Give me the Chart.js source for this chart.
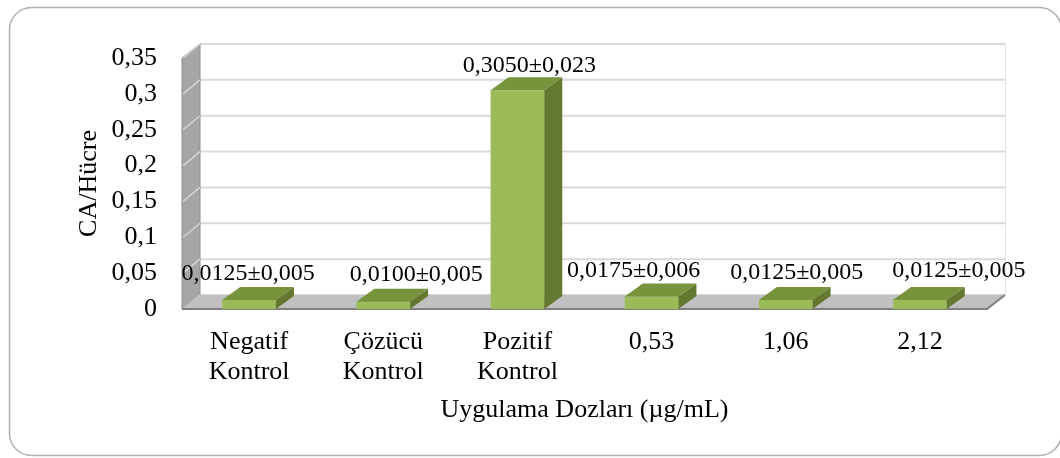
<!DOCTYPE html>
<html><head><meta charset="utf-8">
<script src="https://cdn.jsdelivr.net/npm/chart.js@4/dist/chart.umd.min.js"></script>
<style>html,body{margin:0;padding:0;background:#fff}canvas{display:block}</style>
</head><body>
<canvas id="c" width="1060" height="458"></canvas>
<script>
// ---- data ----
const categories = [["Negatif","Kontrol"],["Çözücü","Kontrol"],["Pozitif","Kontrol"],"0,53","1,06","2,12"];
const meanValues = [0.0125, 0.0100, 0.3050, 0.0175, 0.0125, 0.0125];
const sdValues = [0.005, 0.005, 0.023, 0.006, 0.005, 0.005];
const yTickLabels = ["0","0,05","0,1","0,15","0,2","0,25","0,3","0,35"];
const yTitle = "CA/Hücre";
const xTitle = "Uygulama Dozları (µg/mL)";

// ---- style config ----
const FONT = "'Liberation Serif','Times New Roman',serif";
const WALL = {dx: 18, dy: -14};
const BAR3D = {dx: 18, dy: -13};
const LABEL_DX = [-1, 33, 12, -18, 11, 39];
const LABEL_DY = [-26, -27, -25, -26, -27, -29];
const C_FRONT = '#9bbb59', C_TOP = '#77933c', C_SIDE = '#64792f';

const fmt = (v, d) => v.toFixed(d).replace('.', ',');
const barLabels = meanValues.map((m, i) => fmt(m, 4) + '±' + fmt(sdValues[i], 3));

function poly(ctx, pts, fill, stroke, lw) {
  ctx.beginPath();
  ctx.moveTo(pts[0][0], pts[0][1]);
  for (let i = 1; i < pts.length; i++) ctx.lineTo(pts[i][0], pts[i][1]);
  ctx.closePath();
  if (fill) { ctx.fillStyle = fill; ctx.fill(); }
  if (stroke) { ctx.strokeStyle = stroke; ctx.lineWidth = lw || 1; ctx.stroke(); }
}

const threeD = {
  id: 'threeD',
  beforeDraw(chart) {
    const ctx = chart.ctx, a = chart.chartArea, ys = chart.scales.y;
    ctx.save();
    ctx.fillStyle = '#fff';
    ctx.fillRect(0, 0, chart.width, chart.height);
    // outer rounded border
    ctx.strokeStyle = '#b0b0b0'; ctx.lineWidth = 1.5;
    ctx.beginPath(); ctx.roundRect(9.5, 7.5, 1052, 448, 22); ctx.stroke();
    const L = a.left, R = a.right, T = a.top, Bt = a.bottom, dx = WALL.dx, dy = WALL.dy;
    // back wall
    ctx.fillStyle = '#fff';
    ctx.fillRect(L + dx, T + dy, R - L, Bt - T);
    ctx.strokeStyle = '#e3e3e3'; ctx.lineWidth = 1;
    ctx.beginPath(); ctx.moveTo(R + dx + 0.5, T + dy); ctx.lineTo(R + dx + 0.5, Bt + dy); ctx.stroke();
    // back wall grid lines
    ctx.strokeStyle = '#d9d9d9'; ctx.lineWidth = 2;
    ys.ticks.forEach(t => {
      const py = ys.getPixelForValue(t.value) + dy;
      ctx.beginPath(); ctx.moveTo(L + dx, py); ctx.lineTo(R + dx, py); ctx.stroke();
    });
    // left wall
    poly(ctx, [[L, T], [L + dx, T + dy], [L + dx, Bt + dy], [L, Bt]], '#a6a6a6', '#8c8c8c', 1);
    ctx.strokeStyle = '#d4d4d4'; ctx.lineWidth = 1.5;
    ys.ticks.forEach(t => {
      const py = ys.getPixelForValue(t.value);
      ctx.beginPath(); ctx.moveTo(L + 1, py); ctx.lineTo(L + dx, py + dy); ctx.stroke();
    });
    // floor
    poly(ctx, [[L, Bt], [L + dx, Bt + dy], [R + dx, Bt + dy], [R, Bt]], '#c0c0c0');
    ctx.strokeStyle = '#808080'; ctx.lineWidth = 2;
    ctx.beginPath(); ctx.moveTo(L, Bt); ctx.lineTo(R, Bt); ctx.lineTo(R + dx, Bt + dy); ctx.stroke();
    ctx.restore();
  },
  afterDatasetsDraw(chart) {
    const ctx = chart.ctx, meta = chart.getDatasetMeta(0);
    ctx.save();
    meta.data.forEach((el, i) => {
      const w = el.width, x1 = el.x - w / 2, x2 = el.x + w / 2, yt = el.y, yb = el.base;
      const dx = BAR3D.dx, dy = BAR3D.dy;
      poly(ctx, [[x2, yt], [x2 + dx, yt + dy], [x2 + dx, yb + dy], [x2, yb]], C_SIDE);
      poly(ctx, [[x1, yt], [x2, yt], [x2 + dx, yt + dy], [x1 + dx, yt + dy]], C_TOP);
    });
    ctx.fillStyle = '#000';
    ctx.font = '24px ' + FONT;
    ctx.textAlign = 'center'; ctx.textBaseline = 'middle';
    meta.data.forEach((el, i) => {
      ctx.fillText(barLabels[i], el.x + LABEL_DX[i], el.y + LABEL_DY[i]);
    });
    ctx.restore();
  }
};

new Chart(document.getElementById('c'), {
  type: 'bar',
  data: {
    labels: categories,
    datasets: [{
      data: meanValues,
      backgroundColor: C_FRONT,
      borderWidth: 0,
      barPercentage: 0.4,
      categoryPercentage: 1.0
    }]
  },
  options: {
    responsive: false,
    animation: false,
    devicePixelRatio: 1,
    layout: { padding: { left: 0, top: 58, right: 73, bottom: 0 } },
    plugins: { legend: { display: false }, tooltip: { enabled: false } },
    scales: {
      x: {
        grid: { display: false, drawTicks: false },
        border: { display: false },
        ticks: { color: '#000', font: { family: FONT, size: 26, lineHeight: 1.154 }, padding: 18, maxRotation: 0, autoSkip: false },
        title: { display: true, text: xTitle, color: '#000', font: { family: FONT, size: 26, lineHeight: 1.2 }, padding: { top: 0, bottom: 32 } },
        afterFit(s) { s.height = 149; }
      },
      y: {
        min: 0, max: 0.35,
        grid: { display: false, drawTicks: false },
        border: { display: false },
        ticks: { stepSize: 0.05, color: '#000', padding: 25, font: { family: FONT, size: 26 },
          callback: (v, i) => yTickLabels[i] },
        title: { display: true, text: yTitle, color: '#000', font: { family: FONT, size: 26, lineHeight: 1.2 }, padding: { top: 74, bottom: 0 } },
        afterFit(s) { s.width = 182; }
      }
    }
  },
  plugins: [threeD]
});
</script>
</body></html>
